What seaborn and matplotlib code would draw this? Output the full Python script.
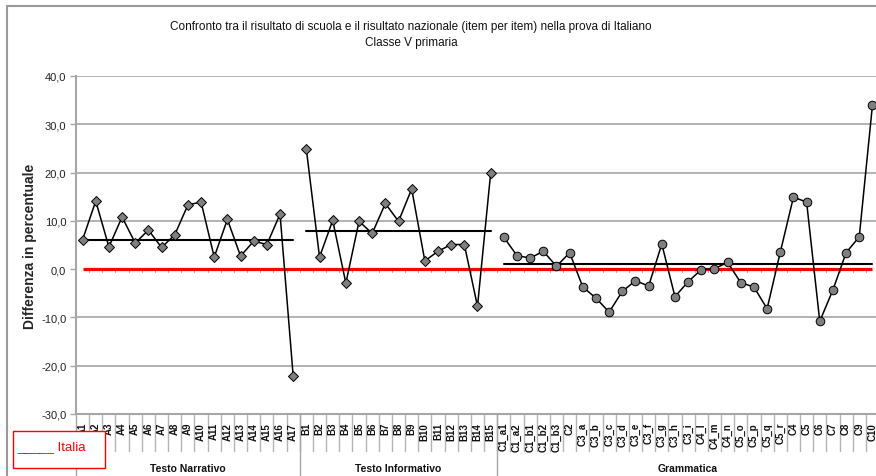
import numpy as np
import pandas as pd
import matplotlib
matplotlib.use("Agg")
import matplotlib.pyplot as plt
import matplotlib.transforms as mtransforms
from matplotlib.patches import Rectangle
import seaborn as sns

# ---------------------------------------------------------------
# dati (differenza scuola - Italia, in punti %)
# ---------------------------------------------------------------
item_a = ["A1", "A2", "A3", "A4", "A5", "A6", "A7", "A8", "A9", "A10",
          "A11", "A12", "A13", "A14", "A15", "A16", "A17"]
val_a = [6.1, 14.1, 4.6, 10.8, 5.4, 8.1, 4.5, 7.1, 13.3, 13.9,
         2.5, 10.3, 2.7, 5.8, 5.1, 11.4, -22.2]

item_b = ["B1", "B2", "B3", "B4", "B5", "B6", "B7", "B8", "B9", "B10",
          "B11", "B12", "B13", "B14", "B15"]
val_b = [24.8, 2.5, 10.1, -2.9, 9.9, 7.4, 13.6, 9.9, 16.6, 1.7,
         3.7, 5.1, 5.1, -7.7, 19.9]

item_c = ["C1_a1", "C1_a2", "C1_b1", "C1_b2", "C1_b3", "C2", "C3_a", "C3_b",
          "C3_c", "C3_d", "C3_e", "C3_f", "C3_g", "C3_h", "C3_i", "C4_l",
          "C4_m", "C4_n", "C5_o", "C5_p", "C5_q", "C5_r", "C4", "C5", "C6",
          "C7", "C8", "C9", "C10"]
val_c = [6.6, 2.8, 2.3, 3.7, 0.6, 3.4, -3.7, -6.0, -8.9, -4.6, -2.4, -3.5,
         5.2, -5.7, -2.6, -0.1, 0.1, 1.4, -2.8, -3.7, -8.2, 3.5, 14.9, 13.9,
         -10.8, -4.3, 3.4, 6.7, 33.9]

sezioni = ["Testo Narrativo", "Testo Informativo", "Grammatica"]
medie = [6.1, 7.9, 1.1]          # linee nere (media della sezione)
y_ticks = [-30, -20, -10, 0, 10, 20, 30, 40]

# ---------------------------------------------------------------
righe = []
for sez, items, vals in zip(sezioni, [item_a, item_b, item_c], [val_a, val_b, val_c]):
    for it, v in zip(items, vals):
        righe.append({"sezione": sez, "item": it, "valore": v})
df = pd.DataFrame(righe)
df["pos"] = np.arange(len(df)) + 0.5
n_tot = len(df)

sns.set_theme(style="white")
plt.rcParams["font.family"] = ["Liberation Sans", "DejaVu Sans"]

W, H = 876, 477
fig = plt.figure(figsize=(W / 100, H / 100), dpi=100)
# area del grafico in pixel: x 76 -> 879, y 77 -> 415
ax = fig.add_axes([76 / W, 1 - 415 / H, (879 - 76) / W, (415 - 77) / H])

GRIGIO = "#a6a6a6"
for yv in y_ticks:
    if yv not in (0, -30):
        ax.axhline(yv, color=GRIGIO, lw=1.2, zorder=0)

# linea rossa Italia (0)
ax.plot([df["pos"].iloc[0], df["pos"].iloc[-1]], [0, 0], color="#ff0000", lw=2.3, zorder=2,
        solid_capstyle="butt")
# piccole tacche sull'asse dello zero
for b in range(1, n_tot):
    ax.plot([b, b], [0, -0.5], color=GRIGIO, lw=0.8, zorder=1)

marker_sez = {"Testo Narrativo": "D", "Testo Informativo": "D", "Grammatica": "o"}
for sez, media in zip(sezioni, medie):
    sub = df[df["sezione"] == sez]
    ax.plot([sub["pos"].iloc[0], sub["pos"].iloc[-1]], [media, media],
            color="black", lw=1.5, zorder=3)
    sns.lineplot(data=sub, x="pos", y="valore", ax=ax, color="black", lw=1.1,
                 marker=marker_sez[sez], markersize=4.6 if marker_sez[sez] == "D" else 6.2,
                 markerfacecolor="#7f7f7f", markeredgecolor="black", markeredgewidth=0.7,
                 zorder=4, legend=False)

ax.set_xlim(0, n_tot)
ax.set_ylim(-30, 40)
ax.set_yticks(y_ticks)
ax.set_yticklabels([f"{v:.1f}".replace(".", ",") for v in y_ticks], fontsize=8, color="#222222")
ax.tick_params(axis="y", direction="out", length=4, width=1, color=GRIGIO, pad=3, left=True)
ax.set_xticks([])
ax.set_xlabel("")
ax.set_ylabel("Differenza in percentuale", fontsize=10, fontweight="bold", labelpad=3)
for s in ["top", "right"]:
    ax.spines[s].set_visible(False)
ax.spines["left"].set_color(GRIGIO)
ax.spines["left"].set_linewidth(1.5)
ax.spines["bottom"].set_color(GRIGIO)
ax.spines["bottom"].set_linewidth(1.5)

# etichette degli item e delle sezioni sotto l'asse
trans = mtransforms.blended_transform_factory(ax.transData, ax.transAxes)
h_ax = 415 - 77
y_sep = -(452 - 415) / h_ax
y_fondo = -(477 - 415) / h_ax
for _, r in df.iterrows():
    ax.text(r["pos"], -(8 / h_ax), r["item"], transform=trans, rotation=90,
            ha="center", va="top", fontsize=7, fontweight="bold", color="#111111")
for b in range(1, n_tot):
    ax.plot([b, b], [0, y_sep], transform=trans, color="#b5b5b5", lw=1, clip_on=False)
confini = [0]
for sez in sezioni:
    confini.append(confini[-1] + (df["sezione"] == sez).sum())
for c in confini:
    ax.plot([c, c], [0, y_fondo], transform=trans, color=GRIGIO, lw=1, clip_on=False)
for i, sez in enumerate(sezioni):
    ax.text((confini[i] + confini[i + 1]) / 2, -(469 - 415) / h_ax, sez, transform=trans,
            ha="center", va="center", fontsize=7.5, fontweight="bold", color="#111111")

# titolo
fig.text(411 / W, 1 - 35 / H,
         "Confronto tra il risultato di scuola e il risultato nazionale (item per item) nella prova di Italiano\nClasse V primaria",
         ha="center", va="center", fontsize=8.5, linespacing=1.4, color="#111111")

# bordo esterno del grafico
fig.patches.append(Rectangle((7 / W, -0.1), 1.2, 1 - 7 / H + 0.1, transform=fig.transFigure,
                             fill=False, edgecolor="#9a9a9a", lw=1.5))

# legenda "Italia"
fig.patches.append(Rectangle((13 / W, 1 - 469 / H), (105 - 13) / W, (469 - 432) / H,
                             transform=fig.transFigure, facecolor="white",
                             edgecolor="#ff0000", lw=1, zorder=10))
fig.text(17 / W, 1 - 447 / H, "_____ Italia", color="#ff0000", fontsize=9.5,
         ha="left", va="center", zorder=11)

plt.savefig("out.png", dpi=100)
plt.close()
